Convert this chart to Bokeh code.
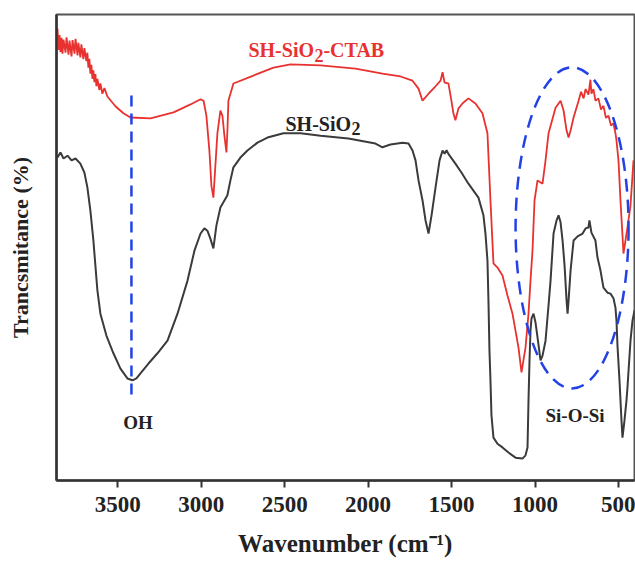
from bokeh.plotting import figure
from bokeh.models import Range1d, FixedTicker, Label
from bokeh.embed import file_html
from bokeh.resources import INLINE

# ---------------- data ----------------
ctab_wn = [3861, 3855, 3849, 3843, 3837, 3831, 3825, 3813, 3807, 3795, 3789, 3777, 3771, 3759,
           3753, 3741, 3736, 3724, 3718, 3706, 3700, 3688, 3682, 3676, 3670, 3664, 3658, 3652,
           3646, 3640, 3634, 3628, 3622, 3610, 3604, 3592, 3580, 3562,
           3514, 3466, 3424, 3304, 3166, 3064, 3004, 2986, 2969, 2951,
           2939, 2927, 2915, 2903, 2885, 2873, 2861, 2849, 2843, 2837, 2807, 2687, 2567, 2465,
           2285, 2076, 1914, 1806, 1734, 1698, 1674, 1638, 1596, 1566, 1554, 1542, 1519, 1501,
           1489, 1477, 1459, 1435, 1399, 1357, 1315, 1285, 1267, 1249, 1225, 1195, 1165, 1135,
           1099, 1081, 1057, 1039, 1027, 1015, 1003, 985, 955, 937, 919, 877, 847, 829, 811,
           799, 787, 769,
           739, 724, 709, 697, 680, 668, 662, 650, 638, 620, 605, 590, 575, 560, 545, 530, 518, 512,
           500, 488, 476, 470, 458, 446, 428, 410]
ctab_t = [97.0, 92.4, 95.6, 91.9, 95.0, 91.6, 94.6, 91.8, 95.1, 91.4, 94.4, 91.0, 94.5, 91.6,
          94.8, 91.2, 93.9, 90.8, 93.6, 90.4, 92.8, 90.0, 91.8, 88.6, 90.5, 87.3, 89.2, 86.2,
          88.0, 85.5, 87.2, 84.6, 86.2, 83.8, 85.2, 83.0, 84.2, 82.4,
          80.3, 78.8, 77.9, 77.7, 79.0, 80.7, 81.8, 81.5, 78.3, 70.8,
          63.3, 60.7, 67.6, 74.5, 79.4, 78.3, 74.0, 70.4, 75.1, 81.5, 85.2, 86.9, 88.6, 89.3,
          89.1, 88.4, 87.3, 86.7, 85.8, 84.1, 81.5, 83.0, 84.6, 85.8, 87.6, 85.4, 85.2, 81.5,
          78.8, 77.3, 79.8, 80.9, 82.0, 80.9, 78.8, 74.5, 60.1, 46.6, 45.7, 44.0, 39.7, 35.8,
          28.5, 23.2, 28.5, 35.8, 42.9, 49.4, 60.1, 64.4, 63.7, 68.7, 74.5, 80.0, 81.5, 79.4,
          75.1, 73.6, 75.1, 77.9,
          81.5, 83.4, 82.0, 84.0, 82.8, 86.0, 83.0, 84.0, 81.5, 82.0, 79.6, 80.4, 77.8, 78.3,
          76.2, 76.6, 74.5, 73.0,
          68.7, 60.1, 52.6, 48.7, 51.5, 54.3, 59.0, 68.7]

sio2_wn = [3861, 3843, 3825, 3801, 3777, 3753, 3724, 3700, 3682, 3664, 3646, 3622, 3604, 3568,
           3526, 3484, 3442, 3412, 3388, 3364, 3316, 3262, 3202, 3142, 3082, 3040, 3004, 2981,
           2963, 2945, 2927, 2909, 2885, 2861, 2843, 2825, 2807, 2765, 2723, 2663, 2603, 2507,
           2405, 2285, 2118, 1956, 1914, 1866, 1794, 1758, 1734, 1716, 1698, 1674, 1656, 1638,
           1620, 1596, 1572, 1554, 1542, 1530, 1519, 1477, 1441, 1399, 1339, 1309, 1297, 1285,
           1279, 1273, 1267, 1261, 1249, 1225, 1195, 1159, 1117, 1075, 1057, 1045, 1039, 1033,
           1027, 1021, 1009, 997, 985, 967, 955, 937, 919, 907, 889, 871, 859, 847, 835, 823,
           811, 805, 799, 787, 769, 745, 715, 697, 680, 674, 662, 638, 626, 608, 590, 566, 548,
           530, 518, 512, 506, 494, 482, 476, 464, 452, 446, 428, 416, 404]
sio2_t = [69.3, 70.4, 69.1, 69.7, 68.7, 69.1, 68.0, 66.1, 62.9, 57.9, 51.5, 40.8, 35.8, 31.1,
          27.3, 24.0, 21.9, 21.5, 21.9, 23.0, 25.1, 27.3, 30.0, 35.8, 42.9, 49.4, 53.0, 54.1,
          53.6, 51.9, 49.8, 54.7, 58.6, 60.1, 61.2, 64.4, 67.2, 69.3, 70.8, 72.5, 73.6, 74.5,
          74.5, 74.0, 73.4, 72.3, 71.5, 72.1, 72.5, 72.3, 70.8, 68.7, 64.4, 60.1, 55.8, 53.0,
          56.9, 62.9, 68.7, 70.8, 70.1, 70.9, 70.1, 68.0, 66.1, 63.7, 60.7, 56.9, 53.0, 47.2,
          38.6, 27.9, 21.5, 14.0, 9.2, 7.9, 7.1, 6.0, 4.9, 4.7, 5.4, 7.1, 17.2, 25.8,
          32.2, 34.8, 35.8, 33.9, 30.7, 25.8, 26.8, 30.0, 37.6, 42.9, 53.0, 55.8, 56.9, 55.4,
          51.5, 46.1, 38.6, 35.8, 38.6, 45.1, 51.5, 52.4, 53.0, 54.1, 54.3, 55.8, 53.2, 51.5,
          47.9, 45.1, 41.4, 40.3, 40.1, 39.1, 37.1, 34.3, 29.0, 21.5, 12.9, 9.2, 12.9, 17.2,
          20.0, 30.0, 34.3, 36.5]

tick_values = [3500, 3000, 2500, 2000, 1500, 1000, 500]

# annotation anchors (data units)
oh_wn = 3418
oh_t = [82.6, 17.8]
ring_wn, ring_t, ring_w, ring_h = 778, 54.2, 677, 68.9

RED = "#e8322f"
DARK = "#3b3b3b"
BLUE = "#2242e6"
FONT = "Liberation Serif"

p = figure(width=635, height=562, output_backend="svg", toolbar_location=None,
           x_range=Range1d(3867, 404), y_range=Range1d(0, 100),
           min_border_left=56, min_border_right=1, min_border_top=14,
           min_border_bottom=82)
p.background_fill_color = "white"
p.border_fill_color = "white"
p.xgrid.visible = False
p.ygrid.visible = False
p.outline_line_color = "#555555"
p.outline_line_width = 2

# curves
p.line(sio2_wn, sio2_t, line_color=DARK, line_width=2)
p.line(ctab_wn, ctab_t, line_color=RED, line_width=1.8)

# annotations
p.line([oh_wn, oh_wn], oh_t, line_color=BLUE, line_width=2.5, line_dash="11 7")
p.ellipse(x=[ring_wn], y=[ring_t], width=[ring_w], height=[ring_h],
          fill_color=None, line_color=BLUE, line_width=2.5, line_dash="13 8")

def add_label(x, y, text, color, size="20px", xo=0, yo=0, align="left"):
    p.add_layout(Label(x=x, y=y, text=text, x_offset=xo, y_offset=yo,
                       text_font=FONT, text_font_style="bold", text_font_size=size,
                       text_color=color, text_align=align, text_baseline="alphabetic"))

add_label(2717, 92.3, "SH-SiO", RED)
add_label(2717, 92.3, "2", RED, size="18px", xo=66, yo=-5)
add_label(2717, 92.3, "-CTAB", RED, xo=75)

add_label(2495, 76.6, "SH-SiO", "#222222")
add_label(2495, 76.6, "2", "#222222", size="18px", xo=66, yo=-5)

add_label(3379, 12.4, "OH", "#222222", size="19px", align="center")
add_label(760, 13.9, "Si-O-Si", "#222222", size="19px", align="center")

# axes
xa = p.xaxis[0]
xa.ticker = FixedTicker(ticks=tick_values)
xa.axis_line_color = "#333333"
xa.axis_line_width = 2.5
xa.major_tick_line_color = "#333333"
xa.major_tick_line_width = 2
xa.major_tick_in = 0
xa.major_tick_out = 7
xa.minor_tick_line_color = None
xa.major_label_text_font = FONT
xa.major_label_text_font_style = "bold"
xa.major_label_text_font_size = "23px"
xa.major_label_text_color = "#222222"
xa.major_label_standoff = 9
xa.axis_label = "Wavenumber (cm\u207b\u00b9)"
xa.axis_label_text_font = FONT
xa.axis_label_text_font_style = "bold"
xa.axis_label_text_font_size = "25px"
xa.axis_label_text_color = "#222222"
xa.axis_label_standoff = 15

ya = p.yaxis[0]
ya.ticker = FixedTicker(ticks=[])
ya.axis_line_color = "#333333"
ya.axis_line_width = 2.5
ya.major_tick_line_color = None
ya.minor_tick_line_color = None
ya.major_label_text_font_size = "0px"
ya.axis_label = "Trancsmitance (%)"
ya.axis_label_text_font = FONT
ya.axis_label_text_font_style = "bold"
ya.axis_label_text_font_size = "22px"
ya.axis_label_text_color = "#222222"
ya.axis_label_standoff = 24

open("out.html", "w").write(file_html(p, INLINE))
